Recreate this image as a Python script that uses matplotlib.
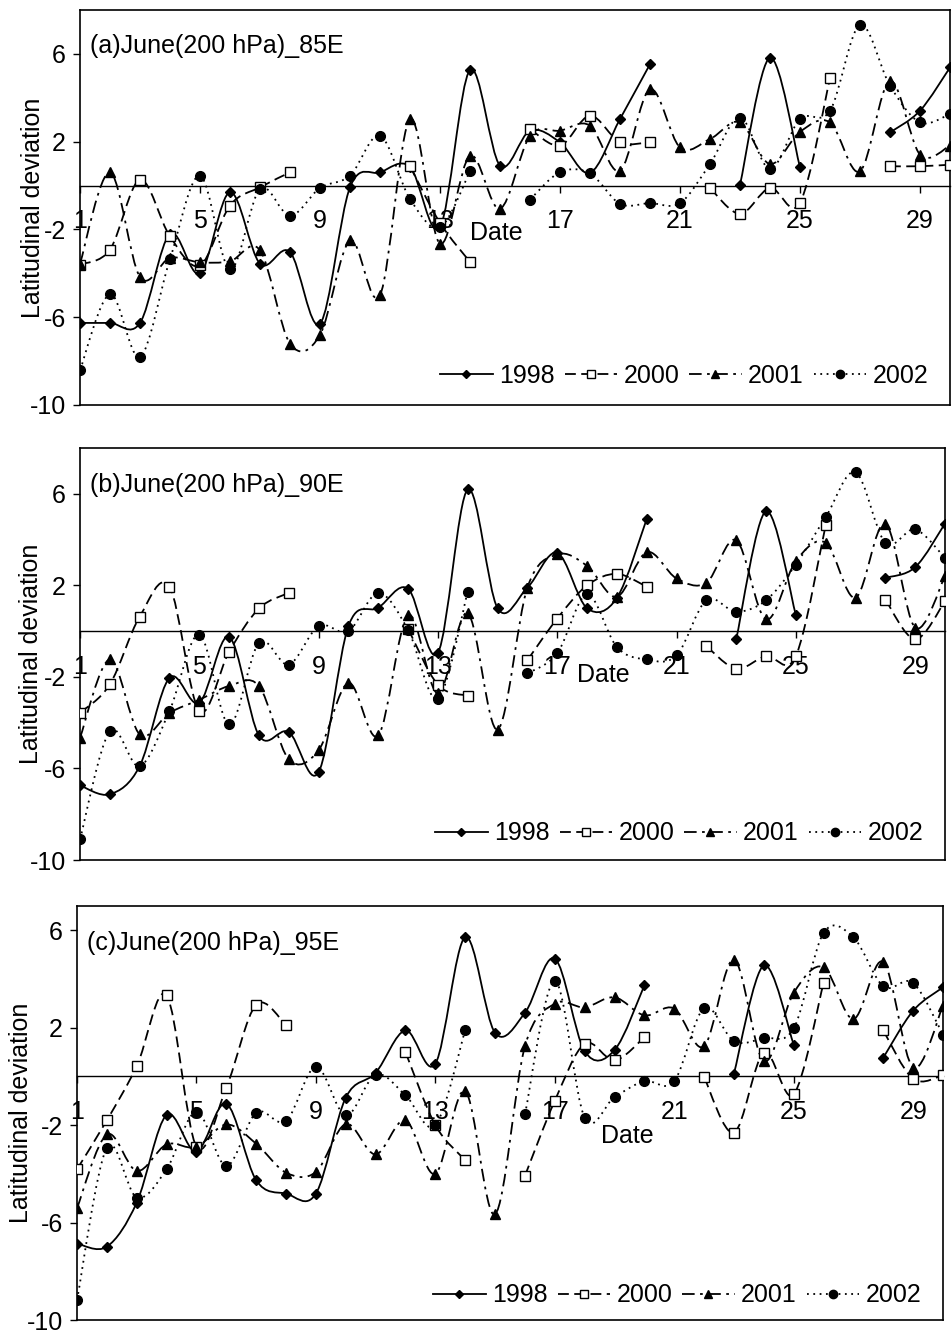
import numpy as np
import matplotlib
matplotlib.use("Agg")
import matplotlib.pyplot as plt
from matplotlib.path import Path
from matplotlib.patches import PathPatch
from matplotlib.lines import Line2D

plt.rcParams['font.family'] = ['Liberation Sans', 'DejaVu Sans']

N = None
days = list(range(1, 31))
date_ticks = [1, 5, 9, 13, 17, 21, 25, 29]
y_ticks = [-10, -6, -2, 2, 6]
years = ["1998", "2000", "2001", "2002"]

# (a) 85E
a_1998 = [-6.26, -6.26, -6.26, -2.2, -4.0, -0.3, -3.56, -3.03, -6.3, -0.08,
          0.6, 0.85, -1.9, 5.27, 0.91, 2.5, 1.97, 0.58, 3.03, 5.53,
          N, N, 0.03, 5.83, 0.83, N, N, 2.42, 3.41, 5.38]
a_2000 = [-3.6, -2.92, 0.26, -2.32, -3.64, -0.91, -0.08, 0.6, N, N,
          N, 0.88, -1.7, -3.48, N, 2.58, 1.82, 3.18, 1.97, 1.97,
          N, -0.11, -1.29, -0.11, -0.79, 4.89, N, 0.88, 0.88, 0.95]
a_2001 = [-3.56, 0.6, -4.17, -3.3, -3.5, -3.45, -2.95, -7.2, -6.8, -2.5,
          -5.0, 3.03, -2.65, 1.36, -1.06, 2.27, 2.5, 2.73, 0.68, 4.39,
          1.74, 2.12, 2.88, 0.98, 2.45, 2.88, 0.65, 4.77, 1.41, 1.82]
a_2002 = [-8.41, -4.95, -7.8, -3.35, 0.45, -3.82, -0.15, -1.38, -0.11, 0.45,
          2.27, -0.61, -1.9, 0.65, N, -0.64, 0.61, 0.55, -0.83, -0.8,
          -0.8, 0.98, 3.1, 0.76, 3.03, 3.41, 7.32, 4.55, 2.88, 3.26]

# (b) 90E
b_1998 = [-6.74, -7.13, -5.9, -2.04, -3.13, -0.25, -4.56, -4.41, -6.16, 0.22,
          1.02, 1.85, -0.95, 6.19, 1.0, 1.9, 3.42, 1.0, 1.45, 4.9,
          N, N, -0.36, 5.24, 0.7, N, N, 2.33, 2.79, 4.7]
b_2000 = [-3.57, -2.33, 0.63, 1.94, -3.49, -0.9, 0.99, 1.67, N, N,
          N, 0.1, -2.35, -2.82, N, -1.27, 0.55, 2.0, 2.5, 1.94,
          N, -0.66, -1.64, -1.09, -1.09, 4.63, N, 1.38, -0.36, 1.31]
b_2001 = [-4.66, -1.24, -4.51, -3.57, -3.0, -2.4, -2.4, -5.6, -5.2, -2.26,
          -4.56, 0.7, -2.72, 0.78, -4.3, 1.9, 3.35, 2.85, 1.5, 3.45,
          2.3, 2.11, 3.97, 0.51, 3.06, 3.86, 1.46, 4.7, 0.15, 2.4]
b_2002 = [-9.1, -4.37, -5.9, -3.49, -0.15, -4.08, -0.51, -1.46, 0.22, 0.0,
          1.67, 0.05, -2.95, 1.73, N, -1.85, -0.97, 1.6, -0.7, -1.24,
          -1.06, 1.35, 0.84, 1.35, 2.91, 4.98, 6.94, 3.86, 4.44, 3.2]

# (c) 95E
c_1998 = [-6.86, -6.99, -5.18, -1.58, -3.09, -1.12, -4.26, -4.81, -4.81, -0.87,
          0.15, 1.89, 0.52, 5.72, 1.79, 2.61, 4.84, 1.04, 1.08, 3.74,
          N, N, 0.12, 4.56, 1.31, N, N, 0.77, 2.7, 3.66]
c_2000 = [-3.81, -1.8, 0.42, 3.33, -2.88, -0.46, 2.95, 2.1, N, N,
          N, 1.0, -2.0, -3.44, N, -4.08, -1.0, 1.34, 0.66, 1.61,
          N, -0.03, -2.31, 0.97, -0.74, 3.84, N, 1.89, -0.1, 0.05]
c_2001 = [-5.41, -2.38, -3.88, -2.79, -2.9, -1.97, -2.76, -3.95, -3.92, -1.95,
          -3.2, -1.8, -4.0, -0.6, -5.66, 1.24, 2.99, 2.84, 3.25, 2.51,
          2.79, 1.24, 4.8, 0.63, 3.43, 4.49, 2.36, 4.7, 0.36, 2.91]
c_2002 = [-9.18, -2.92, -4.97, -3.81, -1.45, -3.67, -1.49, -1.83, 0.4, -1.6,
          0.08, -0.77, -2.0, 1.9, N, -1.56, 3.93, -1.69, -0.85, -0.19,
          -0.19, 2.81, 1.45, 1.58, 1.97, 5.89, 5.71, 3.7, 3.84, 1.72]

LW = 1.3
FS = 18
styles = [
    dict(ls="-", marker="D", ms=5.5, mfc="black"),
    dict(ls=(0, (6, 3)), marker="s", ms=7, mfc="white"),
    dict(ls=(0, (7, 3, 1.5, 3)), marker="^", ms=7, mfc="black"),
    dict(ls=(0, (1, 2.5)), marker="o", ms=7, mfc="black"),
]


def smooth_path(xs, ys):
    """Cubic Bezier path through the points (Catmull-Rom style tangents)."""
    pts = np.column_stack([xs, ys])
    n = len(pts)
    verts = [pts[0]]
    codes = [Path.MOVETO]
    for i in range(n - 1):
        p0 = pts[i - 1] if i > 0 else pts[i]
        p1 = pts[i]
        p2 = pts[i + 1]
        p3 = pts[i + 2] if i + 2 < n else pts[i + 1]
        c1 = p1 + (p2 - p0) / 6.0
        c2 = p2 - (p3 - p1) / 6.0
        verts += [c1, c2, p2]
        codes += [Path.CURVE4] * 3
    return Path(np.array(verts), codes)


def draw_series(ax, values, st):
    x = np.array(days, dtype=float)
    y = np.array([np.nan if v is None else v for v in values], dtype=float)
    ok = ~np.isnan(y)
    start = None
    for i in range(len(y) + 1):
        good = i < len(y) and ok[i]
        if good and start is None:
            start = i
        elif not good and start is not None:
            if i - start >= 2:
                patch = PathPatch(smooth_path(x[start:i], y[start:i]),
                                  fill=False, edgecolor="black", lw=LW,
                                  linestyle=st["ls"], zorder=3)
                ax.add_patch(patch)
            start = None
    ax.plot(x, y, ls="none", marker=st["marker"], ms=st["ms"],
            mfc=st["mfc"], mec="black", mew=1.0, zorder=4)


panels = [
    dict(title="(a)June(200 hPa)_85E", data=[a_1998, a_2000, a_2001, a_2002],
         rect=[80, 10, 950, 405], ytop=8, date=(14.0, -2.15), ylab_x=-0.040,
         leg_y=0.0),
    dict(title="(b)June(200 hPa)_90E", data=[b_1998, b_2000, b_2001, b_2002],
         rect=[80, 448, 945, 860], ytop=8, date=(17.65, -1.9), ylab_x=-0.043,
         leg_y=-0.007),
    dict(title="(c)June(200 hPa)_95E", data=[c_1998, c_2000, c_2001, c_2002],
         rect=[77, 906, 943, 1320], ytop=7, date=(18.55, -2.45), ylab_x=-0.051,
         leg_y=-0.012),
]

W, H = 953, 1333
fig = plt.figure(figsize=(W / 100, H / 100), dpi=100)
fig.patch.set_facecolor("white")

for p in panels:
    l, t, r, b = p["rect"]
    ax = fig.add_axes([l / W, 1 - b / H, (r - l) / W, (b - t) / H])
    ax.set_xlim(1, 30)
    ax.set_ylim(-10, p["ytop"])

    for vals, st in zip(p["data"], styles):
        draw_series(ax, vals, st)

    # x axis drawn along the zero line, frame kept around the plot
    ax.spines["bottom"].set_position(("data", 0))
    for s in ax.spines.values():
        s.set_linewidth(1.2)
    ax.spines["bottom"].set_linewidth(1.0)
    ax.plot([0, 1], [0, 0], transform=ax.transAxes, color="black",
            lw=1.2, clip_on=False, zorder=5)

    ax.set_xticks(date_ticks)
    ax.set_xticklabels([str(d) for d in date_ticks])
    ax.set_yticks(y_ticks)
    ax.set_yticklabels([str(v) for v in y_ticks])
    ax.tick_params(axis="x", direction="out", length=5, width=1.0, pad=12,
                   labelsize=FS)
    ax.tick_params(axis="y", direction="out", length=5, width=1.0, pad=5,
                   labelsize=FS)

    ax.set_ylabel("Latitudinal deviation", fontsize=FS)
    ax.yaxis.set_label_coords(p["ylab_x"], 0.5)

    ax.text(0.012, 0.91, p["title"], transform=ax.transAxes, fontsize=FS,
            ha="left", va="center")
    ax.text(p["date"][0], p["date"][1], "Date", fontsize=FS, ha="left",
            va="center", zorder=2)

    handles = [Line2D([], [], color="black", lw=LW, linestyle=st["ls"],
                      marker=st["marker"], ms=st["ms"] - 1, mfc=st["mfc"],
                      mec="black") for st in styles]
    ax.legend(handles, years, loc="lower right",
              bbox_to_anchor=(0.995, p["leg_y"]), ncol=4,
              frameon=False, fontsize=FS, handlelength=2.1,
              handletextpad=0.25, columnspacing=0.4, borderpad=0.2)

fig.savefig("out.png", dpi=100, facecolor="white")
